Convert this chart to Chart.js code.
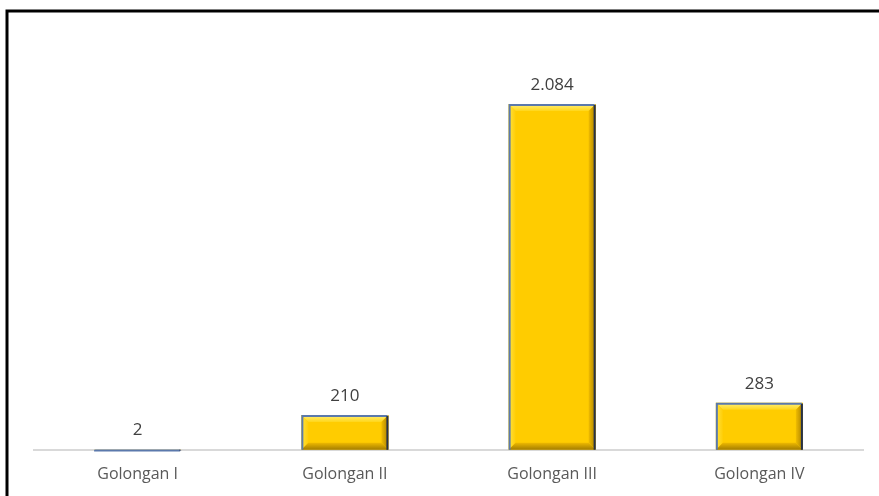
<!DOCTYPE html>
<html>
<head>
<meta charset="utf-8">
<script src="https://cdn.jsdelivr.net/npm/chart.js@4"></script>
<style>
  html, body { margin: 0; padding: 0; background: #ffffff; }
  #wrap { position: relative; width: 879px; height: 496px; }
</style>
</head>
<body>
<div id="wrap"><canvas id="golongan-chart" width="879" height="496"></canvas></div>
<script>
// Jumlah pegawai per golongan
const categories = ['Golongan I', 'Golongan II', 'Golongan III', 'Golongan IV'];
const values = [2, 210, 2084, 283];
const valueLabels = ['2', '210', '2.084', '283'];

const FONT = '"Open Sans", "Noto Sans", sans-serif';

// Frame line along the top and left edge
const framePlugin = {
    id: 'frame',
    beforeDraw(chart) {
        const ctx = chart.ctx;
        ctx.save();
        ctx.strokeStyle = '#000000';
        ctx.lineWidth = 3;
        ctx.beginPath();
        ctx.moveTo(7, chart.height);
        ctx.lineTo(7, 11);
        ctx.lineTo(chart.width, 11);
        ctx.stroke();
        ctx.restore();
    }
};

// Bevelled bar faces, edges and value labels
const bevelPlugin = {
    id: 'bevel',
    afterDatasetsDraw(chart) {
        const ctx = chart.ctx;
        const meta = chart.getDatasetMeta(0);
        meta.data.forEach((bar, i) => {
            const left = bar.x - bar.width / 2;
            const right = bar.x + bar.width / 2;
            const top = bar.y;
            const bottom = bar.base;
            const h = bottom - top;
            const b = Math.min(7, h / 2);

            ctx.save();
            if (h > 2) {
                // top bevel
                let g = ctx.createLinearGradient(0, top, 0, top + b);
                g.addColorStop(0, '#FFF07A');
                g.addColorStop(1, '#FFD61A');
                ctx.fillStyle = g;
                ctx.beginPath();
                ctx.moveTo(left, top); ctx.lineTo(right, top);
                ctx.lineTo(right - b, top + b); ctx.lineTo(left + b, top + b);
                ctx.closePath(); ctx.fill();
                // left bevel
                g = ctx.createLinearGradient(left, 0, left + b, 0);
                g.addColorStop(0, '#FFE23F');
                g.addColorStop(1, '#FFCE08');
                ctx.fillStyle = g;
                ctx.beginPath();
                ctx.moveTo(left, top); ctx.lineTo(left + b, top + b);
                ctx.lineTo(left + b, bottom - b); ctx.lineTo(left, bottom);
                ctx.closePath(); ctx.fill();
                // right bevel
                g = ctx.createLinearGradient(right - b, 0, right, 0);
                g.addColorStop(0, '#F0BC00');
                g.addColorStop(1, '#A87F00');
                ctx.fillStyle = g;
                ctx.beginPath();
                ctx.moveTo(right, top); ctx.lineTo(right, bottom);
                ctx.lineTo(right - b, bottom - b); ctx.lineTo(right - b, top + b);
                ctx.closePath(); ctx.fill();
                // bottom bevel
                g = ctx.createLinearGradient(0, bottom - b, 0, bottom);
                g.addColorStop(0, '#EDB800');
                g.addColorStop(1, '#A37C00');
                ctx.fillStyle = g;
                ctx.beginPath();
                ctx.moveTo(left, bottom); ctx.lineTo(right, bottom);
                ctx.lineTo(right - b, bottom - b); ctx.lineTo(left + b, bottom - b);
                ctx.closePath(); ctx.fill();
            }
            // edges
            ctx.lineWidth = 2;
            ctx.strokeStyle = '#5B79AC';
            ctx.beginPath();
            ctx.moveTo(left + 1, bottom); ctx.lineTo(left + 1, top + 1); ctx.lineTo(right - 1, top + 1);
            ctx.stroke();
            ctx.strokeStyle = '#26324A';
            ctx.beginPath();
            ctx.moveTo(right - 1, top + 1); ctx.lineTo(right - 1, bottom);
            ctx.stroke();

            // value label
            ctx.fillStyle = '#404040';
            ctx.font = '17px ' + FONT;
            ctx.textAlign = 'center';
            ctx.textBaseline = 'middle';
            ctx.fillText(valueLabels[i], bar.x, top - 19);
            ctx.restore();
        });
    }
};

const ctx = document.getElementById('golongan-chart').getContext('2d');
new Chart(ctx, {
    type: 'bar',
    data: {
        labels: categories,
        datasets: [{
            data: values,
            backgroundColor: '#FFCC00',
            borderWidth: 0,
            barPercentage: 0.42,
            categoryPercentage: 1.0
        }]
    },
    options: {
        responsive: false,
        animation: false,
        layout: {
            padding: { top: 30, left: 34, right: 16, bottom: 0 }
        },
        scales: {
            y: {
                display: false,
                min: 0,
                max: 2530
            },
            x: {
                grid: { display: false, drawTicks: false },
                border: { display: true, color: '#D9D9D9', width: 2 },
                ticks: {
                    color: '#595959',
                    padding: 15,
                    font: { family: FONT, size: 16 }
                },
                afterFit(scale) {
                    // let the labels sit a little lower than the fitted box
                    scale.height -= 3;
                }
            }
        },
        plugins: {
            legend: { display: false },
            tooltip: { enabled: false }
        }
    },
    plugins: [framePlugin, bevelPlugin]
});
</script>
</body>
</html>
